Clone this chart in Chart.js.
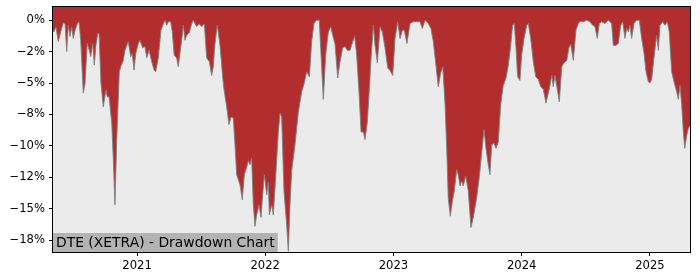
<!DOCTYPE html>
<html>
<head>
<meta charset="utf-8">
<script src="https://cdn.jsdelivr.net/npm/chart.js@4/dist/chart.umd.min.js"></script>
<style>
  html, body { margin: 0; padding: 0; background: #fff; }
  #wrap { width: 700px; height: 280px; }
</style>
</head>
<body>
<div id="wrap"><canvas id="myChart" width="700" height="280"></canvas></div>
<script>
// fecha (año decimal) y drawdown en %
const fechas = [2020.345, 2020.353, 2020.368, 2020.386, 2020.405, 2020.425, 2020.439, 2020.452, 2020.464, 2020.478,
  2020.491, 2020.503, 2020.517, 2020.534, 2020.548, 2020.561, 2020.581, 2020.595, 2020.612, 2020.628,
  2020.639, 2020.655, 2020.667, 2020.680, 2020.694, 2020.704, 2020.719, 2020.737, 2020.758, 2020.768,
  2020.782, 2020.803, 2020.815, 2020.828, 2020.842, 2020.862, 2020.873, 2020.893, 2020.906, 2020.932,
  2020.951, 2020.963, 2020.977, 2020.990, 2021.010, 2021.023, 2021.044, 2021.062, 2021.076, 2021.094,
  2021.115, 2021.133, 2021.146, 2021.166, 2021.187, 2021.205, 2021.218, 2021.232, 2021.244, 2021.263,
  2021.275, 2021.290, 2021.309, 2021.322, 2021.348, 2021.361, 2021.374, 2021.387, 2021.408, 2021.426,
  2021.439, 2021.465, 2021.486, 2021.504, 2021.525, 2021.543, 2021.564, 2021.582, 2021.595, 2021.608,
  2021.626, 2021.647, 2021.668, 2021.678, 2021.699, 2021.717, 2021.733, 2021.751, 2021.764, 2021.777,
  2021.790, 2021.803, 2021.821, 2021.837, 2021.855, 2021.868, 2021.881, 2021.894, 2021.907, 2021.920,
  2021.933, 2021.951, 2021.967, 2021.977, 2021.993, 2022.011, 2022.024, 2022.032, 2022.050, 2022.063,
  2022.084, 2022.102, 2022.115, 2022.128, 2022.146, 2022.167, 2022.180, 2022.193, 2022.206, 2022.232,
  2022.258, 2022.284, 2022.302, 2022.323, 2022.344, 2022.362, 2022.380, 2022.401, 2022.421, 2022.435,
  2022.453, 2022.471, 2022.492, 2022.510, 2022.526, 2022.544, 2022.565, 2022.583, 2022.604, 2022.622,
  2022.640, 2022.661, 2022.682, 2022.698, 2022.713, 2022.731, 2022.747, 2022.765, 2022.778, 2022.796,
  2022.809, 2022.825, 2022.843, 2022.856, 2022.874, 2022.895, 2022.913, 2022.934, 2022.955, 2022.973,
  2022.994, 2023.012, 2023.033, 2023.051, 2023.069, 2023.084, 2023.105, 2023.129, 2023.154, 2023.181,
  2023.207, 2023.225, 2023.246, 2023.271, 2023.292, 2023.310, 2023.329, 2023.349, 2023.368, 2023.384,
  2023.402, 2023.415, 2023.427, 2023.443, 2023.459, 2023.474, 2023.493, 2023.505, 2023.519, 2023.532,
  2023.544, 2023.563, 2023.583, 2023.604, 2023.622, 2023.649, 2023.669, 2023.688, 2023.706, 2023.721,
  2023.739, 2023.752, 2023.766, 2023.784, 2023.799, 2023.817, 2023.836, 2023.856, 2023.877, 2023.895,
  2023.914, 2023.929, 2023.942, 2023.955, 2023.968, 2023.986, 2023.999, 2024.018, 2024.039, 2024.051,
  2024.070, 2024.090, 2024.109, 2024.129, 2024.148, 2024.168, 2024.189, 2024.207, 2024.220, 2024.234,
  2024.246, 2024.259, 2024.277, 2024.293, 2024.312, 2024.329, 2024.351, 2024.368, 2024.382, 2024.402,
  2024.423, 2024.441, 2024.454, 2024.480, 2024.506, 2024.532, 2024.553, 2024.571, 2024.589, 2024.605,
  2024.623, 2024.649, 2024.675, 2024.701, 2024.714, 2024.735, 2024.753, 2024.772, 2024.787, 2024.805,
  2024.818, 2024.831, 2024.844, 2024.857, 2024.875, 2024.896, 2024.917, 2024.935, 2024.953, 2024.969,
  2024.987, 2025.000, 2025.013, 2025.031, 2025.052, 2025.065, 2025.078, 2025.099, 2025.117, 2025.135,
  2025.150, 2025.169, 2025.187, 2025.208, 2025.221, 2025.234, 2025.247, 2025.260, 2025.271, 2025.286,
  2025.299, 2025.312];

const drawdown = [-0.8, -0.93, -0.53, -1.7, -0.93, -0.2, -0.3, -2.5, -0.4, -1.3,
  -0.53, -1.45, -0.8, -0.3, -0.13, -1.6, -5.8, -5.0, -1.85, -2.4,
  -2.9, -1.85, -3.57, -2.0, -1.06, -1.06, -5.0, -6.9, -5.55, -6.1,
  -6.1, -8.2, -11.0, -14.7, -9.5, -4.1, -3.7, -3.2, -2.4, -1.7,
  -2.9, -2.65, -3.97, -2.65, -1.85, -1.6, -2.2, -2.1, -3.0, -2.4,
  -3.3, -3.97, -4.1, -3.0, -0.8, -0.3, 0, -0.4, -0.13, -0.13,
  -0.93, -2.8, -3.0, -3.7, -1.6, -0.4, -1.6, -1.2, -1.0, -0.3,
  0, -0.5, -0.3, -0.5, -0.3, -3.0, -3.3, -4.4, -3.7, -1.9,
  -0.4, -2.0, -4.5, -5.5, -6.9, -8.3, -7.7, -7.8, -9.9, -12.3,
  -12.7, -13.1, -14.3, -12.3, -11.7, -11.2, -11.5, -11.0, -14.7, -16.4,
  -15.5, -14.7, -15.7, -14.3, -12.3, -13.9, -12.9, -15.5, -14.7, -15.5,
  -12.0, -8.9, -7.4, -7.7, -13.6, -16.3, -18.4, -14.7, -12.0, -9.9,
  -7.3, -5.7, -5.1, -4.1, -4.5, -1.7, -0.26, 0, 0, -2.8,
  -6.3, -2.8, -0.93, -0.53, -1.2, -1.9, -4.6, -3.3, -2.2, -2.1,
  -2.4, -2.4, -1.7, -1.3, -2.8, -5.7, -8.9, -8.9, -9.5, -8.1,
  -5.95, -3.0, -0.4, -2.0, -3.4, -0.53, -0.93, -2.2, -3.8, -4.0,
  -4.4, -1.45, -0.13, -1.45, -0.8, -0.8, -1.85, -0.26, -0.13, -0.13,
  -0.13, -0.66, 0, -0.26, -0.66, -1.7, -3.4, -5.3, -4.2, -3.7,
  -6.7, -10.2, -14.2, -15.6, -14.4, -13.6, -11.9, -12.3, -13.2, -12.8,
  -13.2, -12.4, -13.6, -16.5, -15.7, -14.1, -12.5, -10.5, -8.7, -10.2,
  -11.5, -12.3, -9.9, -9.8, -10.2, -9.7, -6.7, -5.2, -4.6, -3.6,
  -2.0, -0.4, -0.26, -2.2, -4.5, -4.8, -2.8, -1.45, -0.4, -0.26,
  -1.45, -3.3, -4.5, -4.7, -5.3, -5.5, -6.6, -5.8, -5.2, -4.4,
  -5.3, -4.4, -5.5, -6.5, -3.7, -3.4, -3.2, -2.2, -1.9, -3.2,
  -0.8, -0.26, -0.1, -0.13, 0, -0.13, -0.4, -0.53, -1.45, -0.26,
  -0.13, -0.26, 0, -0.26, -2.0, -2.0, -1.85, -0.4, -0.13, -1.45,
  -0.66, -0.93, -0.4, -1.45, -0.26, 0, 0, -1.45, -2.6, -4.1,
  -4.9, -5.0, -4.7, -3.0, -1.2, -2.4, -0.4, -0.13, -0.4, -0.13,
  -0.93, -4.1, -4.9, -5.7, -6.3, -5.2, -6.7, -8.9, -10.2, -9.2,
  -8.6, -8.4];

const yTicks = [0, -2.5, -5, -7.5, -10, -12.5, -15, -17.5];
const yTickLabels = ["0%", "\u22122%", "\u22125%", "\u22128%", "\u221210%", "\u221212%", "\u221215%", "\u221218%"];
const xTicks = [2021, 2022, 2023, 2024, 2025];
const xTickLabels = ["2021", "2022", "2023", "2024", "2025"];
const titulo = "DTE (XETRA) - Drawdown Chart";

const puntos = fechas.map((f, i) => ({ x: f, y: drawdown[i] }));

// fondo gris del area, marco y el titulo abajo a la izquierda
const fondoPlugin = {
  id: "fondo",
  beforeDatasetsDraw(chart) {
    const { ctx, chartArea: a } = chart;
    ctx.save();
    ctx.fillStyle = "#ebebeb";
    ctx.fillRect(a.left, a.top, a.right - a.left, a.bottom - a.top);
    ctx.restore();
  },
  afterDraw(chart) {
    const { ctx, chartArea: a } = chart;
    ctx.save();
    ctx.font = "13.9px 'DejaVu Sans'";
    const w = ctx.measureText(titulo).width;
    ctx.fillStyle = "#b3b3b3";
    ctx.fillRect(a.left, a.bottom - 19, w + 6, 19);
    ctx.fillStyle = "#000";
    ctx.textBaseline = "middle";
    ctx.fillText(titulo, a.left + 3, a.bottom - 9);
    ctx.strokeStyle = "#000";
    ctx.lineWidth = 1;
    ctx.strokeRect(Math.round(a.left) - 0.5, Math.round(a.top) - 0.5, Math.round(a.right - a.left) + 1, Math.round(a.bottom - a.top) + 1);
    ctx.restore();
  }
};

const config = {
  type: "line",
  data: {
    datasets: [{
      label: "Drawdown",
      data: puntos,
      borderColor: "rgba(120,132,132,0.9)",
      borderWidth: 1,
      backgroundColor: "#b22e2e",
      fill: "end",
      pointRadius: 0,
      tension: 0
    }]
  },
  options: {
    responsive: false,
    animation: false,
    layout: { padding: { top: 7, right: 10, left: 0, bottom: 0 } },
    plugins: { legend: { display: false }, tooltip: { enabled: false } },
    scales: {
      x: {
        type: "linear",
        min: 2020.345,
        max: 2025.312,
        afterBuildTicks: (axis) => { axis.ticks = xTicks.map(v => ({ value: v })); },
        afterFit: (axis) => { axis.height = 28; axis.paddingLeft = 0; axis.paddingRight = 0; },
        ticks: {
          autoSkip: false,
          maxRotation: 0,
          padding: 3,
          color: "#000",
          font: { family: "DejaVu Sans", size: 11.6 },
          callback: (v) => xTickLabels[xTicks.indexOf(v)]
        },
        grid: { drawOnChartArea: false, drawTicks: true, tickLength: 4, color: "#000" },
        border: { display: true, color: "#000" }
      },
      y: {
        min: -18.45,
        max: 1.05,
        afterBuildTicks: (axis) => { axis.ticks = yTicks.map(v => ({ value: v })); },
        afterFit: (axis) => { axis.width = 53; axis.paddingTop = 0; axis.paddingBottom = 0; },
        ticks: {
          autoSkip: false,
          padding: 4,
          color: "#000",
          font: { family: "DejaVu Sans", size: 11.6 },
          callback: (v) => yTickLabels[yTicks.indexOf(v)]
        },
        grid: { drawOnChartArea: false, drawTicks: true, tickLength: 4, color: "#000" },
        border: { display: true, color: "#000" }
      }
    }
  },
  plugins: [fondoPlugin]
};

const myChart = document.getElementById("myChart");
new Chart(myChart, config);
</script>
</body>
</html>
